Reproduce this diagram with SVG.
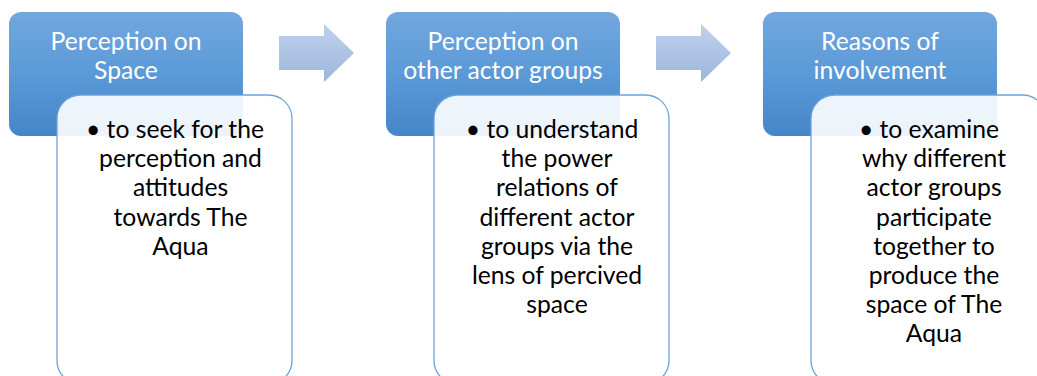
<svg xmlns="http://www.w3.org/2000/svg" width="1037" height="376" viewBox="0 0 1037 376">
  <defs>
    <linearGradient id="hdrFill" x1="0" y1="0" x2="0" y2="1">
      <stop offset="0" stop-color="#73a7de"/>
      <stop offset="0.5" stop-color="#5a9ad8"/>
      <stop offset="1" stop-color="#4585c9"/>
    </linearGradient>
    <linearGradient id="arrowFill" x1="0" y1="0" x2="0" y2="1">
      <stop offset="0" stop-color="#bed2ec"/>
      <stop offset="1" stop-color="#9db6dd"/>
    </linearGradient>
    <path id="arrowShape" d="M0,12 H45 V0 L75,29 L45,58 V46 H0 Z"/>
  </defs>
  <style>
    .hdr { fill: url(#hdrFill); }
    .body { fill: #ffffff; fill-opacity: 0.9; stroke: #6fa2dc; stroke-width: 1.3; }
    .arrow { fill: url(#arrowFill); }
    .title { font-family: Lato, "Liberation Sans", sans-serif; font-size: 24.7px; fill: #ffffff; text-anchor: middle; }
    .item { font-family: Lato, "Liberation Sans", sans-serif; font-size: 24.7px; fill: #000000; text-anchor: middle; }
  </style>

  <!-- connectors -->
  <g id="connectors">
    <use href="#arrowShape" class="arrow" transform="translate(279,24)"/>
    <use href="#arrowShape" class="arrow" transform="translate(656,24)"/>
  </g>

  <!-- step 1 -->
  <g id="node-space">
    <rect class="hdr" x="9" y="12" width="234" height="124" rx="12"/>
    <text class="title" x="126" y="50">Perception on</text>
    <text class="title" x="126" y="79">Space</text>
    <rect class="body" x="57" y="95" width="235" height="289" rx="23.5"/>
    <text class="item" x="175" y="138">• to seek for the</text>
    <text class="item" x="180.5" y="167">perception and</text>
    <text class="item" x="180.5" y="196">attitudes</text>
    <text class="item" x="180.5" y="226">towards The</text>
    <text class="item" x="180.5" y="255">Aqua</text>
  </g>

  <!-- step 2 -->
  <g id="node-actors">
    <rect class="hdr" x="386" y="12" width="234" height="124" rx="12"/>
    <text class="title" x="503" y="50">Perception on</text>
    <text class="title" x="503" y="79">other actor groups</text>
    <rect class="body" x="434" y="95" width="235" height="289" rx="23.5"/>
    <text class="item" x="552" y="138">• to understand</text>
    <text class="item" x="557" y="167">the power</text>
    <text class="item" x="557" y="196">relations of</text>
    <text class="item" x="557" y="226">different actor</text>
    <text class="item" x="557" y="255">groups via the</text>
    <text class="item" x="557" y="284">lens of percived</text>
    <text class="item" x="557" y="313">space</text>
  </g>

  <!-- step 3 -->
  <g id="node-involvement">
    <rect class="hdr" x="763" y="12" width="234" height="124" rx="12"/>
    <text class="title" x="880" y="50">Reasons of</text>
    <text class="title" x="880" y="79">involvement</text>
    <rect class="body" x="811" y="95" width="235" height="289" rx="23.5"/>
    <text class="item" x="929" y="138">• to examine</text>
    <text class="item" x="934" y="167">why different</text>
    <text class="item" x="934" y="196">actor groups</text>
    <text class="item" x="934" y="226">participate</text>
    <text class="item" x="934" y="255">together to</text>
    <text class="item" x="934" y="284">produce the</text>
    <text class="item" x="934" y="313">space of The</text>
    <text class="item" x="934" y="342">Aqua</text>
  </g>
</svg>
